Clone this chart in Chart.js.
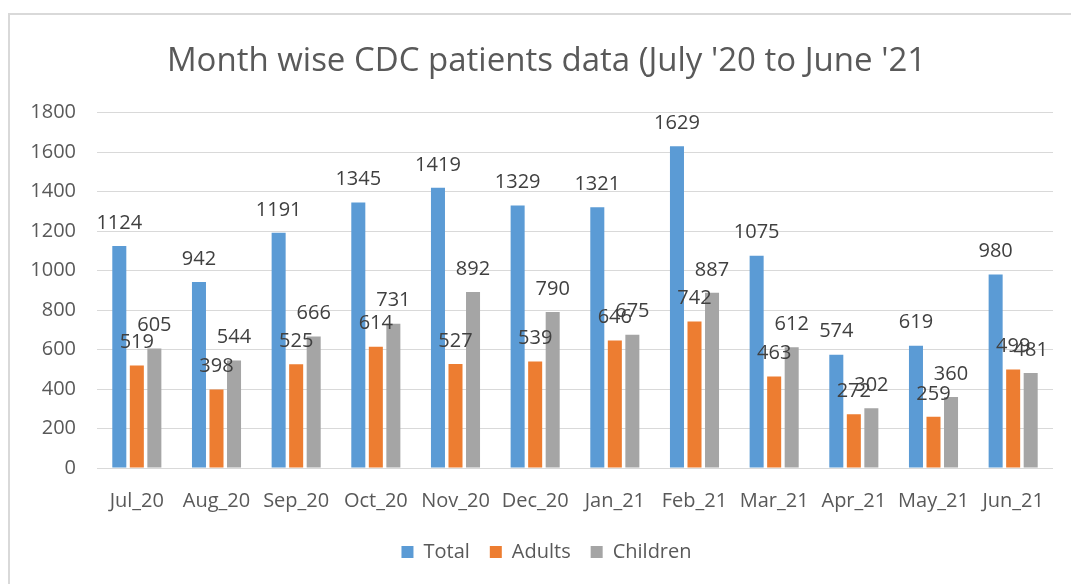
<!DOCTYPE html>
<html>
<head>
<meta charset="utf-8">
<script src="https://cdn.jsdelivr.net/npm/chart.js@4.4.0/dist/chart.umd.min.js"></script>
<style>
  html, body { margin: 0; padding: 0; background: #ffffff; overflow: hidden; width: 1071px; height: 584px; }
  #frame { position: absolute; left: 8px; top: 13px; width: 1080px; height: 600px; border-left: 2px solid #d9d9d9; border-top: 2px solid #d9d9d9; }
  #wrap { position: absolute; left: 10px; top: 16px; width: 1076px; height: 568px; }
</style>
</head>
<body>
<div id="frame"></div>
<div id="wrap"><canvas id="c" width="1076" height="568"></canvas></div>
<script>
const categories = ["Jul_20","Aug_20","Sep_20","Oct_20","Nov_20","Dec_20","Jan_21","Feb_21","Mar_21","Apr_21","May_21","Jun_21"];
const totalValues = [1124, 942, 1191, 1345, 1419, 1329, 1321, 1629, 1075, 574, 619, 980];
const adultValues = [519, 398, 525, 614, 527, 539, 646, 742, 463, 272, 259, 499];
const childValues = [605, 544, 666, 731, 892, 790, 675, 887, 612, 302, 360, 481];
const yTicks = [0, 200, 400, 600, 800, 1000, 1200, 1400, 1600, 1800];
const titleText = "Month wise CDC patients data (July '20 to June '21";

const FONT = "'Open Sans', 'Liberation Sans', sans-serif";
const TEXT = "#595959";

const dataLabels = {
  id: 'dataLabels',
  afterDatasetsDraw(chart) {
    const ctx = chart.ctx;
    ctx.save();
    ctx.font = "20px " + FONT;
    ctx.fillStyle = "#404040";
    ctx.textAlign = "center";
    ctx.textBaseline = "middle";
    chart.data.datasets.forEach((ds, i) => {
      const meta = chart.getDatasetMeta(i);
      meta.data.forEach((el, j) => {
        ctx.fillText(String(ds.data[j]), el.x, el.y - 23);
      });
    });
    ctx.restore();
  }
};

new Chart(document.getElementById('c'), {
  type: 'bar',
  data: {
    labels: categories,
    datasets: [
      { label: 'Total', data: totalValues, backgroundColor: '#5b9bd5' },
      { label: 'Adults', data: adultValues, backgroundColor: '#ed7d31' },
      { label: 'Children', data: childValues, backgroundColor: '#a5a5a5' }
    ]
  },
  options: {
    responsive: false,
    animation: false,
    devicePixelRatio: 1,
    datasets: { bar: { categoryPercentage: 0.66, barPercentage: 0.8 } },
    layout: { padding: { left: 0, right: 3, top: 0, bottom: 12 } },
    plugins: {
      title: {
        display: true,
        text: titleText,
        color: TEXT,
        font: { family: FONT, size: 33, weight: 'normal', lineHeight: 1.2 },
        padding: { top: 26, bottom: 31 }
      },
      legend: {
        position: 'bottom',
        labels: {
          color: TEXT,
          font: { family: FONT, size: 20 },
          boxWidth: 12, boxHeight: 12,
          padding: 20
        }
      },
      tooltip: { enabled: false }
    },
    scales: {
      x: {
        grid: { display: false, drawTicks: false },
        border: { display: false },
        ticks: { color: TEXT, font: { family: FONT, size: 20 }, padding: 21, maxRotation: 0, autoSkip: false },
        afterFit(scale) { scale.height = 54; }
      },
      y: {
        min: 0, max: 1800,
        afterBuildTicks(scale) { scale.ticks = yTicks.map(v => ({ value: v })); },
        grid: { color: '#d9d9d9', lineWidth: 1, drawTicks: false },
        border: { display: false },
        ticks: { color: TEXT, font: { family: FONT, size: 20 }, padding: 21, callback: (v) => String(v) },
        afterFit(scale) { scale.width = 87; }
      },
      rightSpace: {
        type: 'linear',
        position: 'right',
        min: 0, max: 1800,
        grid: { display: false, drawTicks: false },
        border: { display: false },
        ticks: { display: false },
        afterFit(scale) { scale.width = 30; }
      }
    }
  },
  plugins: [dataLabels]
});
</script>
</body>
</html>
